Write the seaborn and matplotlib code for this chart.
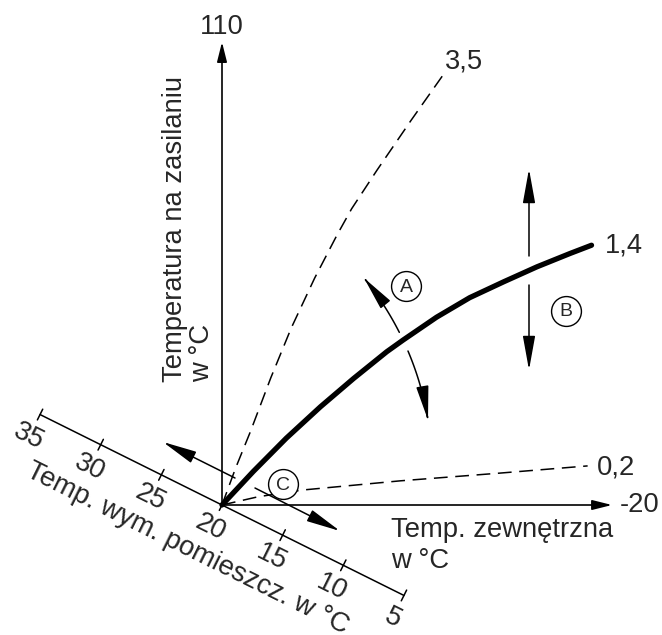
import matplotlib
matplotlib.use('Agg')
import matplotlib.pyplot as plt
import matplotlib.transforms as mtransforms
from matplotlib.patches import FancyArrowPatch
from matplotlib.path import Path
import numpy as np
import seaborn as sns
import pandas as pd

# heating curves: outside temp -> flow temp (deg C)
curve_35_out = [20, 18.6, 17.1, 15.0, 12.9, 10.5, 8.2, 6.7, 4.1, 0.6, -2.9]
curve_35_flow = [20, 27.2, 34.2, 44.7, 54.4, 64.1, 72.5, 77.6, 85.1, 94.8, 104.2]
curve_14_out = [20, 16.8, 13.4, 9.9, 6.5, 3.1, 1.4, -2.0, -5.4, -8.9, -12.3, -15.7, -17.9]
curve_14_flow = [20, 26.5, 33.0, 39.1, 44.6, 49.8, 52.1, 56.5, 60.3, 63.4, 66.3, 68.9, 70.5]
curve_02_out = [20, 16.3, 11.8, 1.7, -8.5, -17.5]
curve_02_flow = [20, 21.6, 22.9, 24.7, 26.2, 27.6]
curve_labels = ['3,5', '1,4', '0,2']

# room set temperature scale (diagonal axis)
room_ticks = [35, 30, 25, 20, 15, 10, 5]

W, H = 662, 635
sns.set_style('white')
plt.rcParams['font.family'] = ['Liberation Sans', 'DejaVu Sans']

fig = plt.figure(figsize=(W / 100, H / 100), dpi=100)
ax = fig.add_axes([0, 0, 1, 1])
ax.set_axis_off()

# chart origin (20 / 20 deg) sits at pixel (222, 505)
ox, oy = 222, 505
sx, sy = 9.75, 5.144
ax.set_xlim(20 + ox / sx, 20 - (W - ox) / sx)
ax.set_ylim(20 - (H - oy) / sy, 20 + oy / sy)

# pixel transform (top-left origin) for the annotations
pix = mtransforms.Affine2D().scale(1 / W, -1 / H).translate(0, 1) + fig.transFigure

axis_arrow = dict(arrowstyle='-|>,head_length=1.2,head_width=0.3', mutation_scale=10,
                  color='black', lw=1.2, shrinkA=0, shrinkB=0)
big_style = '-|>,head_length=2.1,head_width=0.38'
big_arrow = dict(arrowstyle=big_style, mutation_scale=10,
                 color='black', lw=1.1, shrinkA=0, shrinkB=0)

# main axes
ax.annotate('', xy=(20, 110), xytext=(20, 20), arrowprops=axis_arrow)
ax.annotate('', xy=(-20, 20), xytext=(20, 20), arrowprops=axis_arrow)

# curves
df35 = pd.DataFrame({'out': curve_35_out, 'flow': curve_35_flow})
df14 = pd.DataFrame({'out': curve_14_out, 'flow': curve_14_flow})
df02 = pd.DataFrame({'out': curve_02_out, 'flow': curve_02_flow})
sns.lineplot(data=df35, x='out', y='flow', sort=False, estimator=None, color='black',
             lw=1.1, linestyle=(0, (9, 5)), ax=ax)
sns.lineplot(data=df14, x='out', y='flow', sort=False, estimator=None, color='black',
             lw=3.8, solid_capstyle='round', solid_joinstyle='round', ax=ax)
sns.lineplot(data=df02, x='out', y='flow', sort=False, estimator=None, color='black',
             lw=1.1, linestyle=(0, (9, 5)), ax=ax)

fs = 19.7
ax.text(445, 68, curve_labels[0], fontsize=fs, transform=pix)
ax.text(605, 252, curve_labels[1], fontsize=fs, transform=pix)
ax.text(597, 475, curve_labels[2], fontsize=fs, transform=pix)
ax.text(620, 512, '-20', fontsize=fs, transform=pix)
ax.text(222, 34, '110', fontsize=fs, transform=pix, ha='center')

# axis titles
ax.text(182, 382, 'Temperatura na zasilaniu', fontsize=fs, rotation=90,
        rotation_mode='anchor', ha='left', va='baseline', transform=pix)
ax.text(209, 382, 'w °C', fontsize=fs, rotation=90,
        rotation_mode='anchor', ha='left', va='baseline', transform=pix)
ax.text(391, 537, 'Temp. zewnętrzna', fontsize=fs, transform=pix)
ax.text(391, 568, 'w °C', fontsize=fs, transform=pix)

# diagonal room temperature axis
ux, uy = 12.13, 6.03
ang = -26.4


def room_px(r):
    return ox - (r - 20) * ux, oy - (r - 20) * uy


p0, p1 = room_px(room_ticks[0]), room_px(room_ticks[-1])
ax.plot([p0[0], p1[0]], [p0[1], p1[1]], color='black', lw=1.1, transform=pix)
nx, ny = -0.445, 0.895
for r in room_ticks:
    px, py = room_px(r)
    ax.plot([px - 6 * nx, px + 6 * nx], [py - 6 * ny, py + 6 * ny], color='black',
            lw=1.1, transform=pix)
    ax.text(px + 25 * nx, py + 25 * ny, str(r), fontsize=fs, rotation=ang,
            rotation_mode='anchor', ha='center', va='center', transform=pix)
ax.text(25, 476, 'Temp. wym. pomieszcz. w °C', fontsize=fs, rotation=ang,
        rotation_mode='anchor', ha='left', va='baseline', transform=pix)

# adjustment arrows
ax.annotate('', xy=(529, 169), xytext=(529, 256), xycoords=pix, textcoords=pix,
            arrowprops=big_arrow)
ax.annotate('', xy=(529, 370), xytext=(529, 285), xycoords=pix, textcoords=pix,
            arrowprops=big_arrow)
ax.annotate('', xy=(163, 442), xytext=(235, 478), xycoords=pix, textcoords=pix,
            arrowprops=big_arrow)
ax.annotate('', xy=(340, 531), xytext=(255, 488), xycoords=pix, textcoords=pix,
            arrowprops=big_arrow)

# curved arrow A: arc through three points, split around the curve
pa, pb, pc = np.array([364, 278.]), np.array([404, 342.]), np.array([428, 420.])
d = 2 * (pa[0] * (pb[1] - pc[1]) + pb[0] * (pc[1] - pa[1]) + pc[0] * (pa[1] - pb[1]))
ccx = ((pa @ pa) * (pb[1] - pc[1]) + (pb @ pb) * (pc[1] - pa[1]) + (pc @ pc) * (pa[1] - pb[1])) / d
ccy = ((pa @ pa) * (pc[0] - pb[0]) + (pb @ pb) * (pa[0] - pc[0]) + (pc @ pc) * (pb[0] - pa[0])) / d
rad = np.hypot(*(pa - [ccx, ccy]))


def arc_angle(p):
    return np.arctan2(p[1] - ccy, p[0] - ccx)


for start, end in [((400, 332), pa), ((408, 351), pc)]:
    th = np.linspace(arc_angle(start), arc_angle(end), 30)
    verts = np.column_stack([ccx + rad * np.cos(th), ccy + rad * np.sin(th)])
    ax.add_patch(FancyArrowPatch(path=Path(verts), arrowstyle=big_style,
                                 mutation_scale=10, color='black', lw=1.1,
                                 transform=pix))

# circled letters
for letter, (cx, cy) in zip(['A', 'B', 'C'], [(406, 286), (566, 311), (283, 484)]):
    ax.plot([cx], [cy], 'o', ms=21.5, mfc='white', mec='black', mew=1.0,
            transform=pix, zorder=5)
    ax.text(cx, cy + 1, letter, fontsize=14, ha='center', va='center',
            transform=pix, zorder=6)

fig.savefig('out.png', dpi=100)
